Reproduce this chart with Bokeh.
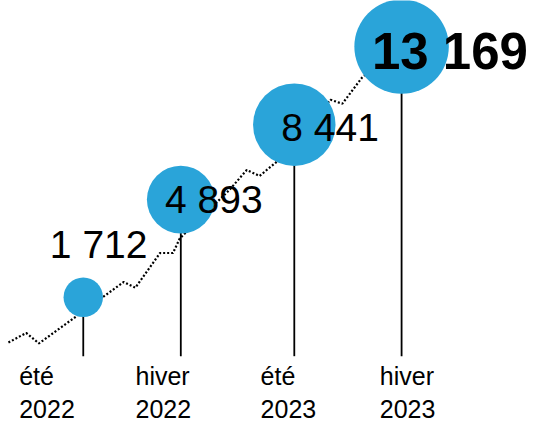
import numpy as np
from bokeh.plotting import figure
from bokeh.models import Range1d, ColumnDataSource
from bokeh.core.properties import value
from bokeh.embed import file_html
from bokeh.resources import INLINE

# ---------------- data ----------------
season = ["été", "hiver", "été", "hiver"]
year = ["2022", "2022", "2023", "2023"]
# timeline position of each period (months since Dec 2021)
period_month = [7.0, 12.5, 18.9, 24.95]
counts = [1712, 4893, 8441, 13169]
count_text = ["1 712", "4 893", "8 441", "13 169"]

# dotted trend line (cumulative count along the timeline)
trend_month = [2.78, 3.78, 4.5, 9.28, 9.94, 11.33, 12.06, 12.44,
               15.22, 16.22, 16.94, 18.0, 20.94, 21.61, 22.72, 24.28]
trend_count = [790, 955, 775, 2100, 1950, 2950, 2950, 3430,
               5280, 6180, 5910, 6630, 9840, 9610, 11170, 12700]

# ---------------- styling ----------------
BLUE = "#2aa4d9"
FONT = "Liberation Sans"
STEM_FLOOR = 24.1  # in sqrt-count units
X0, X1 = 2.333, 32.445
Y0, Y1 = 3.806, 128.25

W, H = 534, 425
p = figure(width=W, height=H, output_backend="svg", toolbar_location=None,
           x_range=Range1d(X0, X1), y_range=Range1d(Y0, Y1),
           x_axis_type=None, y_axis_type=None, min_border=0,
           outline_line_color=None, background_fill_color="white",
           border_fill_color="white")
p.grid.visible = False

sq = lambda a: list(np.sqrt(np.asarray(a, dtype=float)))

# trend line
p.line(trend_month, sq(trend_count), line_color="black", line_width=2.2,
       line_dash="2 2")

# stems
p.segment(x0=period_month, y0=sq(counts), x1=period_month,
          y1=[STEM_FLOOR] * len(counts), line_color="black", line_width=1.8)

# bubbles (radius grows with log of the count)
radius_px = [-80.67 + 31.05 * np.log10(c) for c in counts]
p.scatter(period_month, sq(counts), size=[2 * r for r in radius_px],
          marker="circle", fill_color=BLUE, line_color=None)

# value labels
src = ColumnDataSource(dict(
    x=period_month, y=sq(counts), t=count_text,
    dx=[-33.4, -15.8, -13.0, -29.7], dy=[-52.4, -0.3, 2.4, 5.0],
    fs=["39px", "39px", "39px", "51px"],
    fw=["normal", "normal", "normal", "bold"],
))
p.text(x="x", y="y", text="t", source=src, x_offset="dx", y_offset="dy",
       text_font=value(FONT), text_font_size="fs", text_font_style="fw",
       text_align="left", text_baseline="middle", text_color="black")

# period labels
lab_dx = [-64.1, -45.3, -33.7, -21.8]
floor = [Y0] * 4
p.text(x=period_month, y=floor, text=season, x_offset=lab_dx, y_offset=-49.2,
       text_font=value(FONT), text_font_size="25px", text_align="left",
       text_baseline="middle", text_color="black")
p.text(x=period_month, y=floor, text=year, x_offset=lab_dx, y_offset=-16.4,
       text_font=value(FONT), text_font_size="25px", text_align="left",
       text_baseline="middle", text_color="black")

open("out.html", "w").write(file_html(p, INLINE))
